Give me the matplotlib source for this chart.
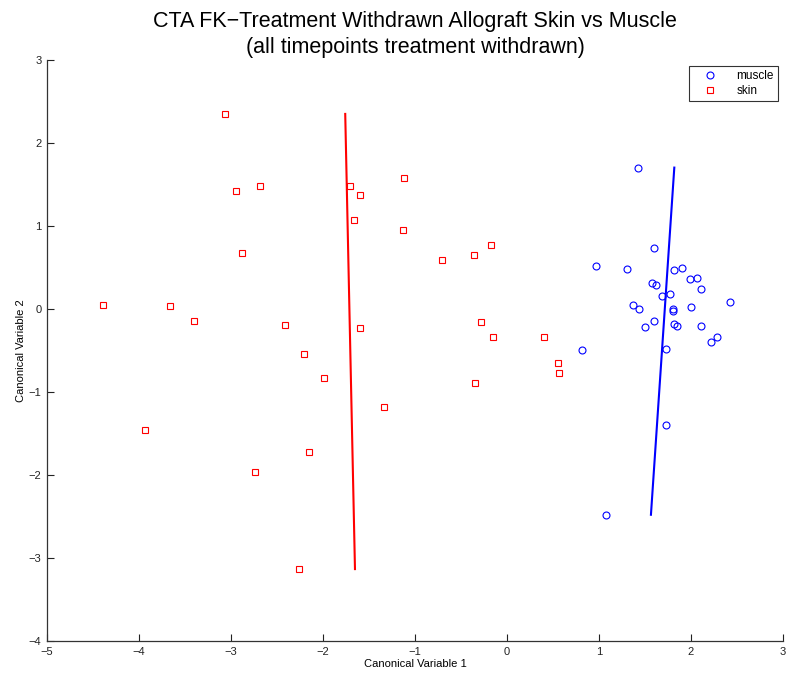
import matplotlib
matplotlib.use("Agg")
import matplotlib.pyplot as plt
import numpy as np

plt.rcParams['font.family'] = ['Liberation Sans', 'DejaVu Sans']

# Canonical variable scores per tissue group
muscle_x = [1.428, 1.601, 0.967, 1.308, 1.812, 1.899, 1.993, 2.069, 1.580, 1.616,
            2.109, 1.681, 1.772, 1.366, 1.435, 1.804, 1.808, 1.997, 2.420, 1.601,
            1.497, 1.819, 1.845, 2.109, 2.283, 2.221, 1.725, 0.815, 1.725, 1.076]
muscle_y = [1.706, 0.739, 0.526, 0.478, 0.474, 0.498, 0.365, 0.381, 0.313, 0.296,
            0.241, 0.164, 0.188, 0.048, 0.004, 0.004, -0.020, 0.028, 0.088, -0.141,
            -0.221, -0.181, -0.205, -0.201, -0.334, -0.394, -0.486, -0.498, -1.394, -2.478]

skin_x = [-3.065, -2.950, -2.685, -2.877, -4.388, -3.660, -3.406, -2.410, -1.710, -1.598,
          -1.123, -1.666, -1.134, -0.170, -0.355, -0.703, -1.598, -0.279, -0.149, -2.207,
          -1.993, -3.931, -2.149, -2.739, -2.257, -1.333, 0.406, 0.554, 0.569, -0.344]
skin_y = [2.353, 1.420, 1.480, 0.680, 0.050, 0.040, -0.140, -0.190, 1.485, 1.373,
          1.586, 1.072, 0.955, 0.775, 0.654, 0.598, -0.233, -0.157, -0.334, -0.539,
          -0.831, -1.454, -1.723, -1.964, -3.133, -1.181, -0.338, -0.651, -0.771, -0.892]

# Group axis lines: x at the top and bottom of each group's y-range
muscle_line_x = [1.819, 1.565]
skin_line_x = [-1.758, -1.652]

x_ticks = [-5, -4, -3, -2, -1, 0, 1, 2, 3]
y_ticks = [-4, -3, -2, -1, 0, 1, 2, 3]

fig = plt.figure(figsize=(7.88, 6.73), dpi=100)
ax = fig.add_axes([0.0596, 0.0475, 0.934, 0.863])

ax.plot(muscle_x, muscle_y, linestyle='none', marker='o', markersize=5,
        markerfacecolor='none', markeredgecolor='#0000ff', markeredgewidth=0.8,
        label='muscle')
ax.plot(skin_x, skin_y, linestyle='none', marker='s', markersize=4.5,
        markerfacecolor='none', markeredgecolor='#ff0000', markeredgewidth=0.8,
        label='skin')

ax.plot(skin_line_x, [max(skin_y), min(skin_y)], color='#ff0000', lw=1.5)
ax.plot(muscle_line_x, [max(muscle_y), min(muscle_y)], color='#0000ff', lw=1.5)

ax.set_xlim(-5, 3)
ax.set_ylim(-4, 3)
ax.set_xticks(x_ticks)
ax.set_yticks(y_ticks)
ax.set_xticklabels([str(t).replace('-', '\u2212') for t in x_ticks])
ax.set_yticklabels([str(t).replace('-', '\u2212') for t in y_ticks])
ax.tick_params(direction='in', length=5, width=0.8, labelsize=8, pad=4, colors='#222222')

for side in ['top', 'right']:
    ax.spines[side].set_visible(False)
for side in ['left', 'bottom']:
    ax.spines[side].set_linewidth(0.9)
    ax.spines[side].set_color('#333333')

ax.set_xlabel('Canonical Variable 1', fontsize=8, labelpad=2)
ax.set_ylabel('Canonical Variable 2', fontsize=8, labelpad=2)
ax.set_title('CTA FK\u2212Treatment Withdrawn Allograft Skin vs Muscle\n(all timepoints treatment withdrawn)',
             fontsize=15.5, pad=5, linespacing=1.3)

leg = ax.legend(loc='upper right', fontsize=8.5, frameon=True, fancybox=False,
                edgecolor='black', borderpad=0.35, handlelength=3.0,
                handletextpad=0.7, labelspacing=0.2, borderaxespad=0,
                bbox_to_anchor=(1 - 5 / 736, 1 - 6 / 581))
leg.get_frame().set_linewidth(0.8)

fig.savefig('out.png', dpi=100, facecolor='white')
